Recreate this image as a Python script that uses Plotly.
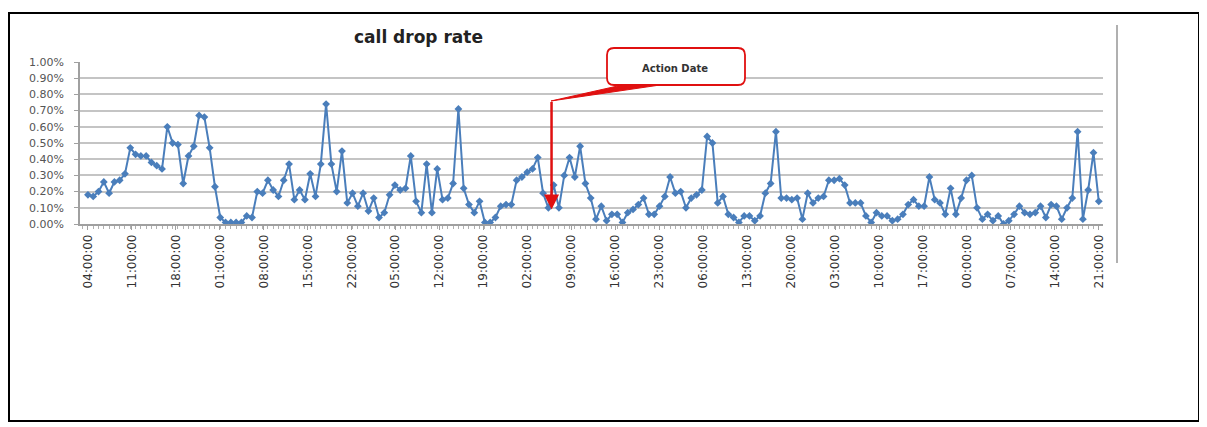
import plotly.graph_objects as go

# ---- data (call drop rate, %) ----
drop_rate_pct = [
    0.18, 0.17, 0.20, 0.26, 0.19, 0.26, 0.27, 0.31, 0.47, 0.43,
    0.42, 0.42, 0.38, 0.36, 0.34, 0.60, 0.50, 0.49, 0.25, 0.42,
    0.48, 0.67, 0.66, 0.47, 0.23, 0.04, 0.01, 0.01, 0.01, 0.01,
    0.05, 0.04, 0.20, 0.19, 0.27, 0.21, 0.17, 0.27, 0.37, 0.15,
    0.21, 0.15, 0.31, 0.17, 0.37, 0.74, 0.37, 0.20, 0.45, 0.13,
    0.19, 0.11, 0.19, 0.08, 0.16, 0.04, 0.07, 0.18, 0.24, 0.21,
    0.22, 0.42, 0.14, 0.07, 0.37, 0.07, 0.34, 0.15, 0.16, 0.25,
    0.71, 0.22, 0.12, 0.07, 0.14, 0.01, 0.01, 0.04, 0.11, 0.12,
    0.12, 0.27, 0.29, 0.32, 0.34, 0.41, 0.19, 0.10, 0.24, 0.10,
    0.30, 0.41, 0.29, 0.48, 0.25, 0.16, 0.03, 0.11, 0.02, 0.06,
    0.06, 0.01, 0.07, 0.09, 0.12, 0.16, 0.06, 0.06, 0.11, 0.17,
    0.29, 0.19, 0.20, 0.10, 0.16, 0.18, 0.21, 0.54, 0.50, 0.13,
    0.17, 0.06, 0.04, 0.01, 0.05, 0.05, 0.02, 0.05, 0.19, 0.25,
    0.57, 0.16, 0.16, 0.15, 0.16, 0.03, 0.19, 0.13, 0.16, 0.17,
    0.27, 0.27, 0.28, 0.24, 0.13, 0.13, 0.13, 0.05, 0.01, 0.07,
    0.05, 0.05, 0.02, 0.03, 0.06, 0.12, 0.15, 0.11, 0.11, 0.29,
    0.15, 0.13, 0.06, 0.22, 0.06, 0.16, 0.27, 0.30, 0.10, 0.03,
    0.06, 0.02, 0.05, 0.00, 0.02, 0.06, 0.11, 0.07, 0.06, 0.07,
    0.11, 0.04, 0.12, 0.11, 0.03, 0.10, 0.16, 0.57, 0.03, 0.21,
    0.44, 0.14,
]
tick_labels = [
    "04:00:00", "11:00:00", "18:00:00", "01:00:00", "08:00:00", "15:00:00",
    "22:00:00", "05:00:00", "12:00:00", "19:00:00", "02:00:00", "09:00:00",
    "16:00:00", "23:00:00", "06:00:00", "13:00:00", "20:00:00", "03:00:00",
    "10:00:00", "17:00:00", "00:00:00", "07:00:00", "14:00:00", "21:00:00",
]
y_ticks = [0.000, 0.001, 0.002, 0.003, 0.004, 0.005, 0.006, 0.007, 0.008, 0.009, 0.010]
title_text = "call drop rate"
action_text = "Action Date"
action_index = 87.6          # position of the action date along the series
action_value = 0.0009

N = len(drop_rate_pct)
x_idx = list(range(N))
y_vals = [v / 100 for v in drop_rate_pct]
tickvals = [i * (N - 1) / (len(tick_labels) - 1) for i in range(len(tick_labels))]

OFF = 8  # page body margin
W, H = 1193, 419
# plot area in page pixels
PL, PR, PT, PB = 80, 1103, 62, 224
L, R, T, B = PL - OFF, PR - OFF, PT - OFF, PB - OFF


def u(px):
    return (px - PL) / (PR - PL)


def v(py):
    return (PB - py) / (PB - PT)


BLUE = "#4a7ebb"
RED = "#e01010"

fig = go.Figure()
fig.add_trace(go.Scatter(
    x=x_idx, y=y_vals, mode="lines+markers",
    line=dict(color=BLUE, width=2),
    marker=dict(symbol="diamond", size=6, color=BLUE),
    showlegend=False, hoverinfo="skip",
))

shapes = []
# outer border
shapes.append(dict(type="rect", xref="paper", yref="paper",
                   x0=u(9), x1=u(1199), y0=v(421), y1=v(13),
                   line=dict(color="black", width=2)))
# right plot-area border
shapes.append(dict(type="line", xref="paper", yref="paper",
                   x0=u(1117), x1=u(1117), y0=v(263), y1=v(25),
                   line=dict(color="#b0b0b0", width=2)))
# callout rounded box
bx0, bx1, by0, by1, r = 607, 745, 48, 85, 7
def P(px, py):
    return f"{u(px):.5f},{v(py):.5f}"
box_path = (f"M {P(bx0 + r, by0)} L {P(bx1 - r, by0)} Q {P(bx1, by0)} {P(bx1, by0 + r)} "
            f"L {P(bx1, by1 - r)} Q {P(bx1, by1)} {P(bx1 - r, by1)} "
            f"L {P(bx0 + r, by1)} Q {P(bx0, by1)} {P(bx0, by1 - r)} "
            f"L {P(bx0, by0 + r)} Q {P(bx0, by0)} {P(bx0 + r, by0)} Z")
shapes.append(dict(type="path", xref="paper", yref="paper", path=box_path,
                   line=dict(color=RED, width=1.8), fillcolor="white"))
# callout tail wedge
tail = f"M {P(551, 101)} L {P(622, 85)} L {P(660, 85)} Z"
shapes.append(dict(type="path", xref="paper", yref="paper", path=tail,
                   line=dict(color=RED, width=1), fillcolor=RED))

annotations = [
    dict(text=f"<b>{title_text}</b>", xref="paper", yref="paper",
         x=u(418), y=v(37), showarrow=False, xanchor="center", yanchor="middle",
         font=dict(family="DejaVu Sans", size=17, color="#222222")),
    dict(text=f"<b>{action_text}</b>", xref="paper", yref="paper",
         x=u(675), y=v(68), showarrow=False, xanchor="center", yanchor="middle",
         font=dict(family="DejaVu Sans", size=10, color="#333333")),
    dict(text="", x=action_index, y=action_value, xref="x", yref="y",
         showarrow=True, arrowhead=2, arrowsize=1.2, arrowwidth=2.5,
         arrowcolor=RED, ax=0, ay=-(210 - 101), standoff=0),
]

fig.update_layout(
    width=W, height=H,
    margin=dict(l=L, r=W - R, t=T, b=H - B),
    paper_bgcolor="white", plot_bgcolor="white",
    shapes=shapes, annotations=annotations,
    xaxis=dict(
        range=[-1.5, N - 0.2], showgrid=False, zeroline=False,
        showline=True, linecolor="#a0a0a0", linewidth=1.5,
        tickmode="array", tickvals=tickvals, ticktext=tick_labels,
        tickangle=-90, ticks="outside", ticklen=4, tickcolor="#a0a0a0",
        minor=dict(tickmode="linear", tick0=0, dtick=1, ticks="outside",
                   ticklen=3, tickcolor="#b0b0b0", showgrid=False),
        tickfont=dict(family="DejaVu Sans", size=12, color="#333333"),
    ),
    yaxis=dict(
        range=[0, 0.0100001], tickmode="array", tickvals=y_ticks,
        tickformat=".2%", showgrid=True, gridcolor="#c4c4c4", gridwidth=1.5,
        zeroline=False, showline=True, linecolor="#a0a0a0", linewidth=1.5,
        ticks="outside", ticklen=4, tickcolor="#a0a0a0",
        ticklabelstandoff=8,
        tickfont=dict(family="DejaVu Sans", size=11, color="#555555"),
    ),
)

fig.write_html("out.html")
